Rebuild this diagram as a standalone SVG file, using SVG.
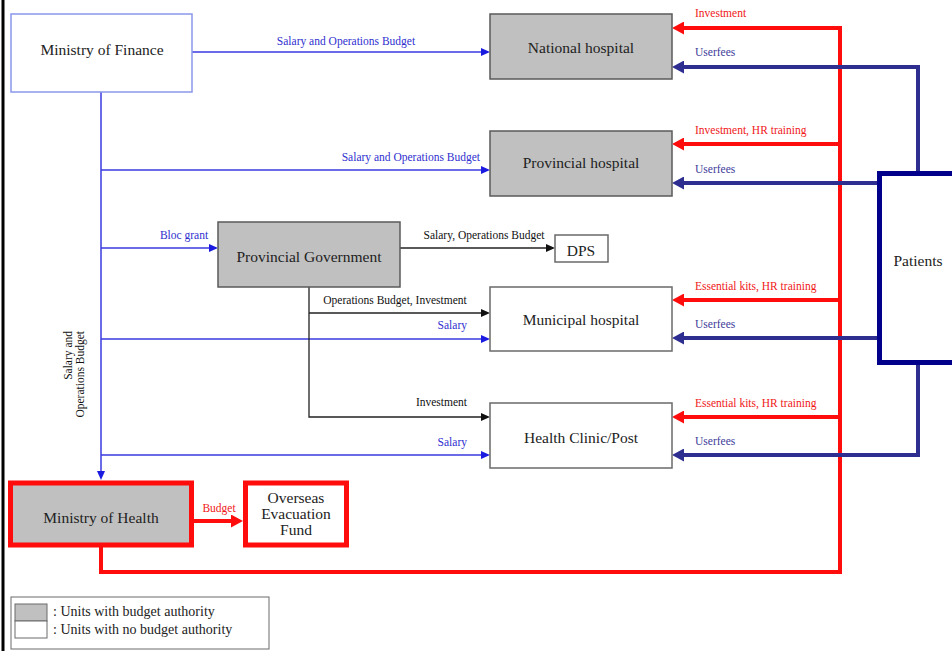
<svg xmlns="http://www.w3.org/2000/svg" width="952" height="651" viewBox="0 0 952 651">
<defs>
<style>
.node{font-family:"Liberation Serif","Times New Roman",serif;font-size:15.5px;fill:#222;text-anchor:middle}
.lbl{font-family:"Liberation Serif","Times New Roman",serif;font-size:11.5px}
.lb{fill:#2f2fd0}
.lr{fill:#f01818}
.ln{fill:#3c3c9a}
.lk{fill:#111}
.gray{fill:#c0c0c0;stroke:#5a5a5a;stroke-width:1.5}
.white{fill:#fff;stroke:#6a6a6a;stroke-width:1.5}
.cb{fill:none;stroke:#3a3ae0;stroke-width:1.5}
.ck{fill:none;stroke:#222;stroke-width:1.3}
.cr{fill:none;stroke:#ff0d0d;stroke-width:4}
.cn{fill:none;stroke:#2e2e90;stroke-width:4}
</style>
<marker id="ab" markerUnits="userSpaceOnUse" markerWidth="9" markerHeight="8" viewBox="0 0 9 8" refX="0" refY="4" orient="auto"><path d="M0,0 L9,4 L0,8 z" fill="#1a1ae0"/></marker>
<marker id="ak" markerUnits="userSpaceOnUse" markerWidth="9" markerHeight="8" viewBox="0 0 9 8" refX="0" refY="4" orient="auto"><path d="M0,0 L9,4 L0,8 z" fill="#111"/></marker>
<marker id="ar" markerUnits="userSpaceOnUse" markerWidth="12" markerHeight="13" viewBox="0 0 12 13" refX="0" refY="6.5" orient="auto"><path d="M0,0 L12,6.5 L0,13 z" fill="#ff0d0d"/></marker>
<marker id="an" markerUnits="userSpaceOnUse" markerWidth="12" markerHeight="13" viewBox="0 0 12 13" refX="0" refY="6.5" orient="auto"><path d="M0,0 L12,6.5 L0,13 z" fill="#2e2e90"/></marker>
</defs>
<rect x="0" y="0" width="952" height="651" fill="#fff"/>
<line x1="3" y1="0" x2="3" y2="651" stroke="#000" stroke-width="3"/>

<g id="connectors">
<path class="cb" d="M192,52 H481" marker-end="url(#ab)"/>
<path class="cb" d="M101,92 V471" marker-end="url(#ab)"/>
<path class="cb" d="M101,170 H481" marker-end="url(#ab)"/>
<path class="cb" d="M101,248 H209" marker-end="url(#ab)"/>
<path class="cb" d="M101,339 H481" marker-end="url(#ab)"/>
<path class="cb" d="M101,455 H481" marker-end="url(#ab)"/>
<path class="ck" d="M400,248 H546" marker-end="url(#ak)"/>
<path class="ck" d="M309,287 V417 H481" marker-end="url(#ak)"/>
<path class="ck" d="M309,313 H481" marker-end="url(#ak)"/>
<path class="cr" d="M101,547 V572 H840 V28 H684" marker-end="url(#ar)"/>
<path class="cr" d="M840,144 H684" marker-end="url(#ar)"/>
<path class="cr" d="M840,300 H684" marker-end="url(#ar)"/>
<path class="cr" d="M840,417 H684" marker-end="url(#ar)"/>
<path class="cr" d="M193,521 H231" marker-end="url(#ar)"/>
<path class="cn" d="M918,172 V67 H684" marker-end="url(#an)"/>
<path class="cn" d="M878,183 H684" marker-end="url(#an)"/>
<path class="cn" d="M878,338 H684" marker-end="url(#an)"/>
<path class="cn" d="M918,364 V455 H684" marker-end="url(#an)"/>

<text class="lbl lb" x="346" y="45" text-anchor="middle">Salary and Operations Budget</text>
<text class="lbl lb" x="480" y="161" text-anchor="end">Salary and Operations Budget</text>
<text class="lbl lb" x="184" y="239" text-anchor="middle">Bloc grant</text>
<text class="lbl lk" x="484" y="239" text-anchor="middle">Salary, Operations Budget</text>
<text class="lbl lk" x="395" y="304" text-anchor="middle">Operations Budget, Investment</text>
<text class="lbl lb" x="467" y="329" text-anchor="end">Salary</text>
<text class="lbl lk" x="467" y="406" text-anchor="end">Investment</text>
<text class="lbl lb" x="467" y="446" text-anchor="end">Salary</text>
<text class="lbl lk" transform="translate(72,331) rotate(-90)" text-anchor="end">Salary and</text>
<text class="lbl lk" transform="translate(84,331) rotate(-90)" text-anchor="end">Operations Budget</text>
<text class="lbl lr" x="695" y="17">Investment</text>
<text class="lbl ln" x="695" y="56">Userfees</text>
<text class="lbl lr" x="695" y="134">Investment, HR training</text>
<text class="lbl ln" x="695" y="173">Userfees</text>
<text class="lbl lr" x="695" y="290">Essential kits, HR training</text>
<text class="lbl ln" x="695" y="328">Userfees</text>
<text class="lbl lr" x="695" y="407">Essential kits, HR training</text>
<text class="lbl ln" x="695" y="445">Userfees</text>
<text class="lbl lr" x="219" y="512" text-anchor="middle">Budget</text>
</g>

<g id="ministry-of-finance">
<rect x="11" y="14" width="181" height="78" fill="#fff" stroke="#8a98ea" stroke-width="1.5"/>
<text class="node" x="102" y="55">Ministry of Finance</text>
</g>
<g id="national-hospital">
<rect class="gray" x="490" y="14" width="182" height="65"/>
<text class="node" x="581" y="53">National hospital</text>
</g>
<g id="provincial-hospital">
<rect class="gray" x="490" y="131" width="182" height="65"/>
<text class="node" x="581" y="168">Provincial hospital</text>
</g>
<g id="provincial-government">
<rect class="gray" x="218" y="222" width="182" height="65"/>
<text class="node" x="309" y="262">Provincial Government</text>
</g>
<g id="dps">
<rect class="white" x="555" y="235" width="53" height="27"/>
<text class="node" x="581" y="256">DPS</text>
</g>
<g id="municipal-hospital">
<rect class="white" x="490" y="287" width="182" height="64"/>
<text class="node" x="581" y="325">Municipal hospital</text>
</g>
<g id="health-clinic">
<rect class="white" x="490" y="403" width="182" height="65"/>
<text class="node" x="581" y="443">Health Clinic/Post</text>
</g>
<g id="patients">
<rect x="879.5" y="173.5" width="90" height="189" fill="#fff" stroke="#00008b" stroke-width="5"/>
<text class="node" x="918" y="266">Patients</text>
</g>
<g id="ministry-of-health">
<rect x="10.5" y="483" width="181" height="62" fill="#c0c0c0" stroke="#ff0d0d" stroke-width="5"/>
<text class="node" x="101" y="523">Ministry of Health</text>
</g>
<g id="overseas-evacuation-fund">
<rect x="245.5" y="483" width="101" height="62" fill="#fff" stroke="#ff0d0d" stroke-width="5"/>
<text class="node" x="296" y="503">Overseas</text>
<text class="node" x="296" y="519">Evacuation</text>
<text class="node" x="296" y="535">Fund</text>
</g>
<g id="legend">
<rect x="11" y="597" width="258" height="52" fill="#fff" stroke="#6a6a6a" stroke-width="1"/>
<rect x="15" y="604" width="32" height="17" fill="#c0c0c0" stroke="#6a6a6a" stroke-width="1"/>
<rect x="15" y="621" width="32" height="17" fill="#fff" stroke="#6a6a6a" stroke-width="1"/>
<text x="53" y="616" style="font-family:'Liberation Serif','Times New Roman',serif;font-size:14px;fill:#222">: Units with budget authority</text>
<text x="53" y="634" style="font-family:'Liberation Serif','Times New Roman',serif;font-size:14px;fill:#222">: Units with no budget authority</text>
</g>
</svg>
